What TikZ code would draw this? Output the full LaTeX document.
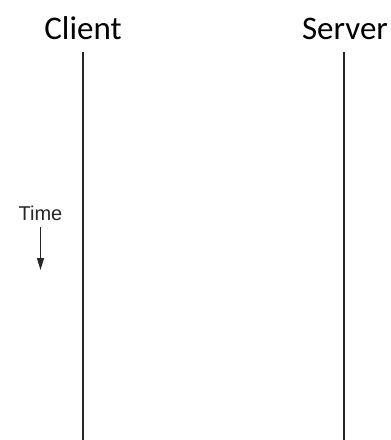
\documentclass[tikz,border=0pt]{standalone}
\usepackage{fontspec}
\setmainfont{Carlito}
\newfontfamily\arialfont{Liberation Sans}
\usetikzlibrary{arrows.meta}
\begin{document}
\begin{tikzpicture}[x=1pt,y=-1pt,
  lifeline/.style={line width=1.6pt,black!85},
  header/.style={anchor=base,inner sep=0pt,font=\fontsize{33}{33}\selectfont},
  timelabel/.style={anchor=base,inner sep=0pt,font=\arialfont\fontsize{20}{20}\selectfont,text=black!85},
  timearrow/.style={line width=1.1pt,black!85,-{Triangle[length=12pt,width=7pt]}}]
\useasboundingbox (0,0) rectangle (391,440);
\node[header] (client) at (83,39) {Client};
\node[header] (server) at (345,39) {Server};
\coordinate (ctop) at (83,52);
\coordinate (cbot) at (83,440);
\coordinate (stop) at (344,52);
\coordinate (sbot) at (344,440);
\draw[lifeline] (ctop) -- (cbot);
\draw[lifeline] (stop) -- (sbot);
\node[timelabel] (time) at (40.5,220) {Time};
\coordinate (tstart) at (40.5,227);
\coordinate (tend) at (40.5,270);
\draw[timearrow] (tstart) -- (tend);
\end{tikzpicture}
\end{document}
